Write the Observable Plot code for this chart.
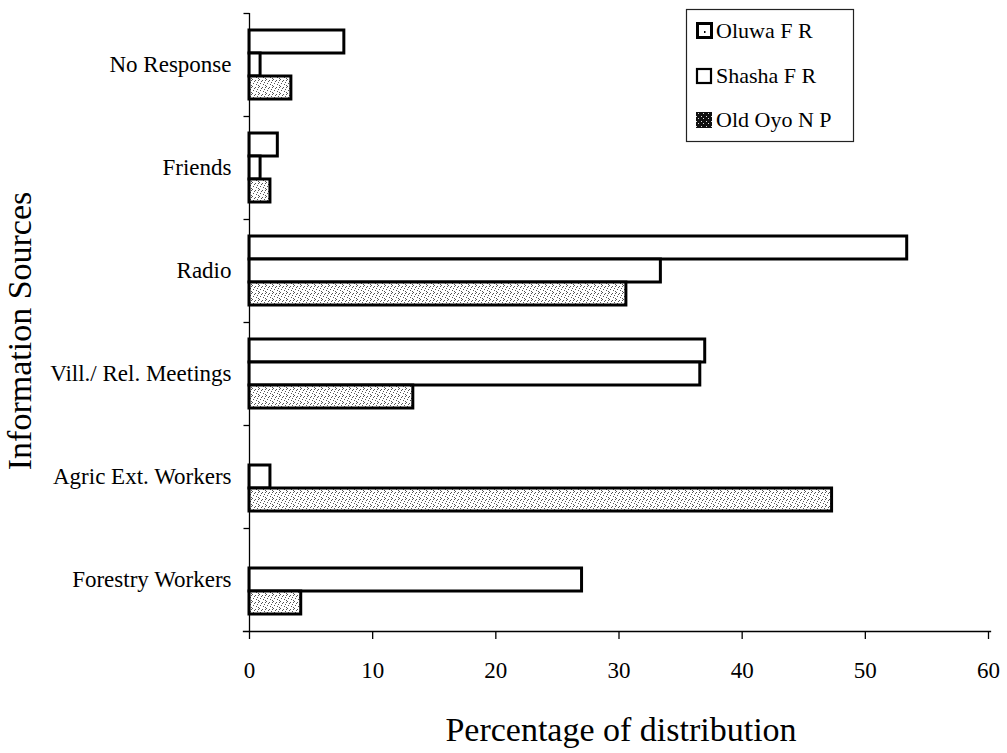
<!DOCTYPE html>
<html>
<head>
<meta charset="utf-8">
<script src="https://cdn.jsdelivr.net/npm/d3@7"></script>
<script src="https://cdn.jsdelivr.net/npm/@observablehq/plot@0.6"></script>
<style>
  html, body { margin: 0; padding: 0; background: #fff; }
  #chart { width: 1007px; height: 753px; }
</style>
</head>
<body>
<div id="chart"></div>
<script>
// ---- data ----
const categories = ["No Response", "Friends", "Radio", "Vill./ Rel. Meetings", "Agric Ext. Workers", "Forestry Workers"];
const series = ["Oluwa F R", "Shasha F R", "Old Oyo N P"];
const oluwa  = [7.7, 2.3, 53.4, 37.0, 0, 0];
const shasha = [0.9, 0.9, 33.4, 36.6, 1.7, 27.0];
const oldOyo = [3.4, 1.7, 30.6, 13.3, 47.3, 4.2];
const xTicks = [0, 10, 20, 30, 40, 50, 60];
const xTitle = "Percentage of distribution";
const yTitle = "Information Sources";

const valuesBySeries = [oluwa, shasha, oldOyo];
const rows = categories.flatMap((c, i) =>
  series.map((s, j) => ({category: c, series: s, value: valuesBySeries[j][i]}))
);

// short tick to the left of the axis at each category boundary
const tickLeft = {draw(ctx) { ctx.moveTo(-6, 0); ctx.lineTo(0, 0); }};

const plot = Plot.plot({
  width: 1007,
  height: 753,
  marginLeft: 249,
  marginRight: 19,
  marginTop: 11,
  marginBottom: 120,
  style: "font-family: 'Liberation Serif', 'Times New Roman', serif; color: #000; background: #fff;",
  x: {domain: [0, 60], ticks: xTicks},
  y: {domain: series, paddingInner: 0, paddingOuter: 0.73, axis: null},
  fy: {domain: categories, padding: 0},
  marks: [
    Plot.barX(rows.filter(d => d.value > 0 && d.series !== series[2]), {
      x: "value", y: "series", fy: "category",
      fill: "white", stroke: "black", strokeWidth: 3, strokeLinejoin: "miter"
    }),
    Plot.barX(rows.filter(d => d.value > 0 && d.series === series[2]), {
      x: "value", y: "series", fy: "category",
      fill: "url(#stipple)", stroke: "black", strokeWidth: 3, strokeLinejoin: "miter"
    }),
    Plot.ruleX([0], {stroke: "black", strokeWidth: 1.3}),
    Plot.dot([0], {frameAnchor: "top-left", symbol: tickLeft, stroke: "black", strokeWidth: 1.3}),
    Plot.frame({anchor: "bottom", facetAnchor: "bottom", insetLeft: -6, insetRight: -2, stroke: "black", strokeWidth: 1.3}),
    Plot.axisX({ticks: xTicks, tickSize: 8, tickPadding: 22, fontSize: 23, label: null, strokeWidth: 1.3}),
    Plot.axisFy({anchor: "left", tickSize: 0, tickPadding: 18, fontSize: 23, label: null})
  ]
});

const svg = d3.select(plot);
// stipple pattern for Old Oyo N P
const defs = svg.insert("defs", ":first-child");
const pat = defs.append("pattern").attr("id", "stipple").attr("patternUnits", "userSpaceOnUse")
  .attr("width", 7).attr("height", 7);
pat.append("rect").attr("width", 7).attr("height", 7).attr("fill", "#fff");
[[0, 0], [3, 1], [5, 3], [1, 4], [4, 5], [6, 6], [2, 2], [6, 1]].forEach(([px, py]) =>
  pat.append("rect").attr("x", px).attr("y", py).attr("width", 1).attr("height", 1).attr("fill", "#555"));
const pat2 = defs.append("pattern").attr("id", "stippleDark").attr("patternUnits", "userSpaceOnUse")
  .attr("width", 5).attr("height", 5);
pat2.append("rect").attr("width", 5).attr("height", 5).attr("fill", "#111");
[[1, 1], [3, 3]].forEach(([px, py]) =>
  pat2.append("rect").attr("x", px).attr("y", py).attr("width", 1).attr("height", 1).attr("fill", "#ddd"));

// axis titles
svg.append("text")
  .attr("x", 621).attr("y", 741)
  .attr("text-anchor", "middle").attr("font-size", 34).attr("fill", "#000")
  .text(xTitle);
svg.append("text")
  .attr("transform", "translate(31,331) rotate(-90)")
  .attr("text-anchor", "middle").attr("font-size", 34).attr("fill", "#000")
  .text(yTitle);

// legend
const lg = svg.append("g").attr("text-anchor", "start");
lg.append("rect").attr("x", 686.5).attr("y", 9.5).attr("width", 167).attr("height", 132)
  .attr("fill", "#fff").attr("stroke", "#222").attr("stroke-width", 1.2);
const rowsY = [31, 76, 120];
// Oluwa swatch
lg.append("rect").attr("x", 697.5).attr("y", rowsY[0] - 7.5).attr("width", 14).attr("height", 14)
  .attr("fill", "#fff").attr("stroke", "#000").attr("stroke-width", 3);
lg.append("rect").attr("x", 704).attr("y", rowsY[0]).attr("width", 1.5).attr("height", 2).attr("fill", "#000");
// Shasha swatch
lg.append("rect").attr("x", 697).attr("y", rowsY[1] - 7).attr("width", 14).attr("height", 14)
  .attr("fill", "#fff").attr("stroke", "#000").attr("stroke-width", 2.2);
// Old Oyo swatch
lg.append("rect").attr("x", 696).attr("y", rowsY[2] - 8).attr("width", 16).attr("height", 16)
  .attr("fill", "url(#stippleDark)");
series.forEach((s, i) => {
  lg.append("text").attr("x", 716).attr("y", rowsY[i]).attr("dy", "0.33em")
    .attr("text-anchor", "start")
    .attr("font-size", 22).attr("fill", "#000").text(s);
});

document.getElementById("chart").appendChild(plot);
</script>
</body>
</html>
